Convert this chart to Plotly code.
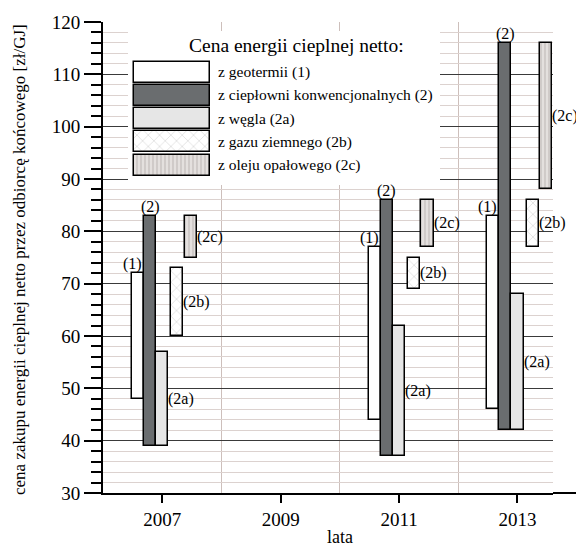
import plotly.graph_objects as go

# ---------------- data ----------------
years = [2007, 2011, 2013]
year_ticks = [2007, 2009, 2011, 2013]
y_ticks = [30, 40, 50, 60, 70, 80, 90, 100, 110, 120]

geo_low = [48, 44, 46]
geo_high = [72, 77, 83]
conv_low = [39, 37, 42]
conv_high = [83, 86, 116]
coal_low = [39, 37, 42]
coal_high = [57, 62, 68]
gas_low = [60, 69, 77]
gas_high = [73, 75, 86]
oil_low = [75, 77, 88]
oil_high = [83, 86, 116]

series_names = [
    "z geotermii (1)",
    "z ciepłowni konwencjonalnych (2)",
    "z węgla (2a)",
    "z gazu ziemnego (2b)",
    "z oleju opałowego (2c)",
]
series_tags = ["(1)", "(2)", "(2a)", "(2b)", "(2c)"]
legend_title = "Cena energii cieplnej netto:"
x_title = "lata"
y_title = "cena zakupu energii cieplnej netto przez odbiorcę końcowego [zł/GJ]"

lows = [geo_low, conv_low, coal_low, gas_low, oil_low]
highs = [geo_high, conv_high, coal_high, gas_high, oil_high]

# ---------------- styles ----------------
FONT = "Liberation Serif"
BAR_W = 0.205
centers = [-0.41, -0.205, 0.0, 0.255, 0.48]
label_pos = ["topright", "top", "right", "right", "right"]
fills = [
    dict(color="white"),
    dict(color="#6a6d6f"),
    dict(color="#e6e6e6"),
    dict(color="white", pattern=dict(shape="x", fgcolor="#a8a8a8", bgcolor="white", size=8, solidity=0.15)),
    dict(color="#ddd8d5", pattern=dict(shape="|", fgcolor="#a9a3a0", bgcolor="#e4e0de", size=4, solidity=0.35)),
]
TAG_FONT = dict(family=FONT, size=16, color="black")

fig = go.Figure()

annotations = []
for i in range(5):
    base = lows[i]
    hgt = [h - l for h, l in zip(highs[i], lows[i])]
    mk = dict(fills[i])
    mk["line"] = dict(color="black", width=1.5)
    fig.add_trace(go.Bar(
        x=years, y=hgt, base=base, width=BAR_W, offset=centers[i] - BAR_W / 2,
        marker=mk, showlegend=False, xaxis="x", yaxis="y",
    ))
    for yr, lo, hi in zip(years, lows[i], highs[i]):
        if label_pos[i] == "topright":
            annotations.append(dict(x=yr + centers[i] + BAR_W / 2, y=hi, xref="x", yref="y",
                                    text=series_tags[i], showarrow=False, xanchor="right",
                                    yanchor="bottom", yshift=-2, font=TAG_FONT))
        elif label_pos[i] == "top":
            annotations.append(dict(x=yr + centers[i], y=hi, xref="x", yref="y",
                                    text=series_tags[i], showarrow=False, xanchor="center",
                                    yanchor="bottom", yshift=-2, font=TAG_FONT))
        else:
            annotations.append(dict(x=yr + centers[i] + BAR_W / 2, y=(lo + hi) / 2, xref="x", yref="y",
                                    text=series_tags[i], showarrow=False, xanchor="left",
                                    yanchor="middle", xshift=-2, font=TAG_FONT))

# ---------------- legend drawn on an overlay axis (pixel-like units) ----------------
L_LEFT, L_RIGHT, L_TOP, L_BOTTOM = 103, 553, 18, 493
fig.add_trace(go.Bar(y=[104.5], x=[312], base=[128], width=155, orientation="h",
                     marker=dict(color="white", line=dict(width=0)),
                     xaxis="x2", yaxis="y2", showlegend=False, hoverinfo="skip"))
row0, pitch = 68.7, 23.4
for i in range(5):
    mk = dict(fills[i])
    mk["line"] = dict(color="black", width=1.5)
    fig.add_trace(go.Bar(y=[row0 + i * pitch], x=[76], base=[133.5], width=21, orientation="h",
                         marker=mk, xaxis="x2", yaxis="y2", showlegend=False, hoverinfo="skip"))
    annotations.append(dict(x=216, y=row0 + i * pitch, xref="x2", yref="y2", text=series_names[i],
                            showarrow=False, xanchor="left", yanchor="middle",
                            font=dict(family=FONT, size=15.5, color="black")))
annotations.append(dict(x=187, y=42, xref="x2", yref="y2", text=legend_title, showarrow=False,
                        xanchor="left", yanchor="middle", font=dict(family=FONT, size=19.5, color="black")))

# axis titles
annotations.append(dict(x=(340 - L_LEFT) / (L_RIGHT - L_LEFT), y=(L_BOTTOM - 537) / (L_BOTTOM - L_TOP),
                        xref="paper", yref="paper", text=x_title, showarrow=False,
                        xanchor="center", yanchor="middle", font=dict(family=FONT, size=18, color="black")))
annotations.append(dict(x=(20 - L_LEFT) / (L_RIGHT - L_LEFT), y=(L_BOTTOM - 258) / (L_BOTTOM - L_TOP),
                        xref="paper", yref="paper", text=y_title, showarrow=False, textangle=-90,
                        xanchor="center", yanchor="middle", font=dict(family=FONT, size=17, color="black")))

fig.update_layout(
    width=576, height=548,
    margin=dict(l=L_LEFT, r=576 - L_RIGHT, t=L_TOP, b=548 - L_BOTTOM, pad=0),
    paper_bgcolor="white", plot_bgcolor="white",
    barmode="overlay", bargap=0,
    showlegend=False,
    font=dict(family=FONT, color="black"),
    annotations=annotations,
    xaxis=dict(
        range=[2006, 2013.6], tickvals=year_ticks, ticks="outside", ticklen=8, tickwidth=2,
        tickcolor="black", showline=True, linewidth=2, linecolor="black", showgrid=False,
        zeroline=False, tickfont=dict(family=FONT, size=19, color="black"),
        minor=dict(tickvals=[2008, 2010, 2012], showgrid=True, gridcolor="#cdbfbb", gridwidth=1, ticks=""),
        fixedrange=True,
    ),
    yaxis=dict(
        range=[30, 120], tickvals=y_ticks, ticks="outside", ticklen=17, tickwidth=2,
        tickcolor="black", showline=True, linewidth=2, linecolor="black",
        showgrid=True, gridcolor="#3a3a3a", gridwidth=1, zeroline=False,
        tickfont=dict(family=FONT, size=19, color="black"),
        minor=dict(dtick=2, ticks="outside", ticklen=10, tickwidth=2, tickcolor="black",
                   showgrid=True, gridcolor="#dcd2cf", gridwidth=1),
        fixedrange=True,
    ),
    xaxis2=dict(overlaying="x", anchor="y2", range=[L_LEFT, L_RIGHT], visible=False, fixedrange=True),
    yaxis2=dict(overlaying="y", anchor="x2", range=[L_BOTTOM, L_TOP], visible=False, fixedrange=True),
    shapes=[dict(type="line", xref="paper", yref="paper", x0=1, x1=(576 - L_LEFT) / (L_RIGHT - L_LEFT),
                 y0=0, y1=0, line=dict(color="black", width=2))],
)

fig.write_html("out.html", config={"displayModeBar": False},
               post_script="document.body.style.margin='0';document.body.style.overflow='hidden';")
